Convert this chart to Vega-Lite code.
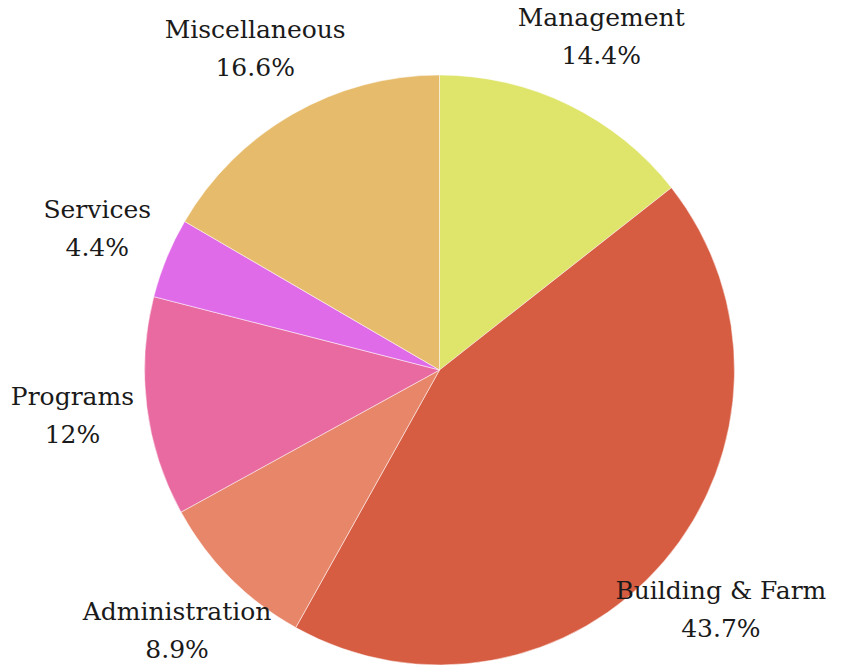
{
  "$schema": "https://vega.github.io/schema/vega-lite/v6.json",
  "autosize": {"type": "none"},
  "width": 831,
  "height": 604,
  "padding": {"left": 24, "top": 68, "right": 0, "bottom": 0},
  "background": "white",
  "view": {"stroke": null},
  "data": {
    "values": [
      {"i": 1, "category": "Management", "value": 14.4, "pct": "14.4%"},
      {"i": 2, "category": "Building & Farm", "value": 43.7, "pct": "43.7%"},
      {"i": 3, "category": "Administration", "value": 8.9, "pct": "8.9%"},
      {"i": 4, "category": "Programs", "value": 12.0, "pct": "12%"},
      {"i": 5, "category": "Services", "value": 4.4, "pct": "4.4%"},
      {"i": 6, "category": "Miscellaneous", "value": 16.6, "pct": "16.6%"}
    ]
  },
  "encoding": {
    "theta": {"field": "value", "type": "quantitative", "stack": true},
    "order": {"field": "i", "type": "quantitative"}
  },
  "layer": [
    {
      "mark": {"type": "arc", "radius": 295, "stroke": "white", "strokeWidth": 0.5},
      "encoding": {
        "color": {
          "field": "category",
          "type": "nominal",
          "scale": {
            "domain": ["Management", "Building & Farm", "Administration", "Programs", "Services", "Miscellaneous"],
            "range": ["#dfe46b", "#d65c42", "#e8866a", "#e86aa0", "#e06be8", "#e6bc6c"]
          },
          "legend": null
        }
      }
    },
    {
      "mark": {"type": "text", "radius": 370, "dy": -19, "font": "DejaVu Serif", "fontSize": 25, "color": "#1a1a1a", "align": "center", "baseline": "middle"},
      "encoding": {"text": {"field": "category"}}
    },
    {
      "mark": {"type": "text", "radius": 370, "dy": 19, "font": "DejaVu Serif", "fontSize": 25, "color": "#1a1a1a", "align": "center", "baseline": "middle"},
      "encoding": {"text": {"field": "pct"}}
    }
  ]
}
